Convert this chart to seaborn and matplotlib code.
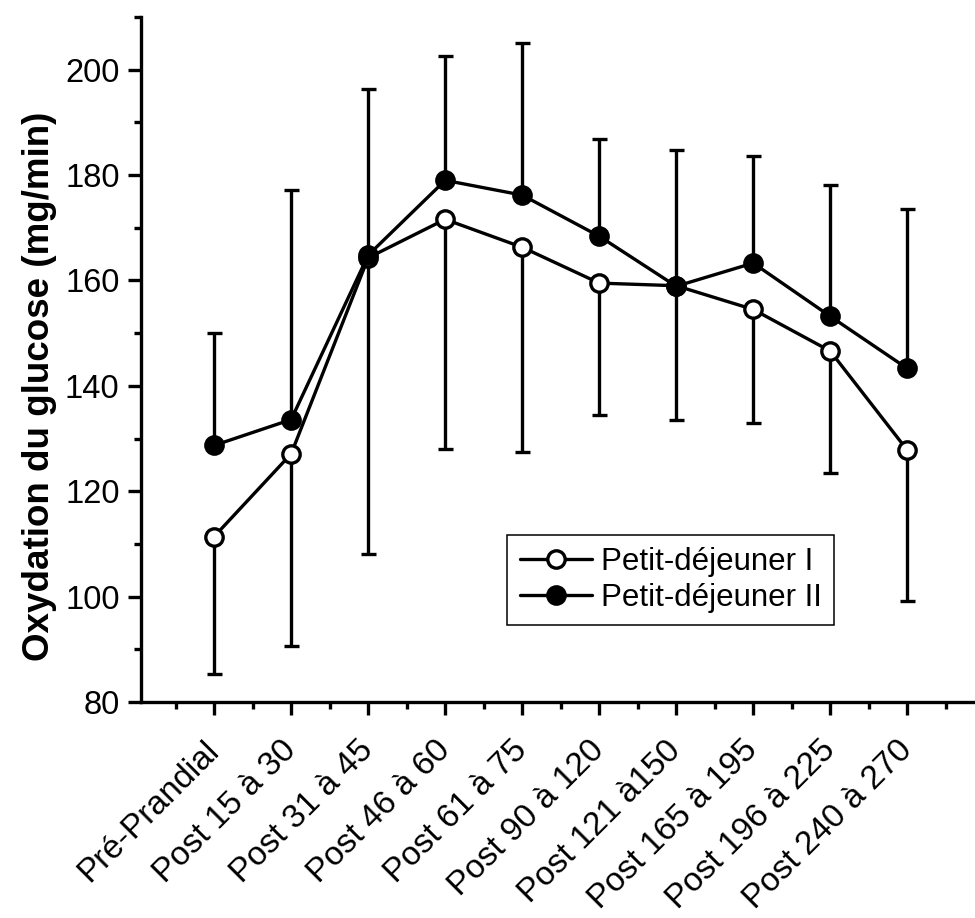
import numpy as np
import pandas as pd
import matplotlib
matplotlib.use("Agg")
import matplotlib.pyplot as plt
from matplotlib.ticker import MultipleLocator, FixedLocator
import seaborn as sns

# Periods of measurement
periodes = ["Pré-Prandial", "Post 15 à 30", "Post 31 à 45", "Post 46 à 60",
            "Post 61 à 75", "Post 90 à 120", "Post 121 à150", "Post 165 à 195",
            "Post 196 à 225", "Post 240 à 270"]

# Glucose oxidation (mg/min), means
pdj_1 = [111.4, 127.1, 164.3, 171.6, 166.3, 159.5, 159.0, 154.5, 146.6, 127.8]
pdj_2 = [128.7, 133.6, 164.8, 179.0, 176.2, 168.4, 158.9, 163.3, 153.2, 143.3]

# Standard deviations (drawn downward for I, upward for II)
sd_1 = [26.1, 36.4, 56.3, 43.5, 38.8, 25.1, 25.5, 21.6, 23.1, 28.6]
sd_2 = [21.4, 43.5, 31.5, 23.6, 28.9, 18.4, 25.9, 20.3, 24.9, 30.2]

noms = ["Petit-déjeuner I", "Petit-déjeuner II"]

sns.set_style("ticks")
plt.rcParams["font.family"] = ["Liberation Sans", "DejaVu Sans"]
plt.rcParams["text.color"] = "black"
plt.rcParams["axes.labelcolor"] = "black"
plt.rcParams["xtick.color"] = "black"
plt.rcParams["ytick.color"] = "black"

pos = np.arange(len(periodes))
df = pd.DataFrame({
    "pos": np.concatenate([pos, pos]),
    "val": pdj_1 + pdj_2,
    "repas": [noms[0]] * len(pos) + [noms[1]] * len(pos),
})

fig = plt.figure(figsize=(9.75, 9.18), dpi=100)
ax = fig.add_axes([141 / 975, 1 - 702 / 918, (975 - 141) / 975, 685 / 918])

lw = 2.4
# one-sided error bars
zeros = np.zeros(len(pos))
ax.errorbar(pos, pdj_1, yerr=[sd_1, zeros], fmt="none", ecolor="black",
            elinewidth=lw, capsize=5.4, capthick=lw, zorder=1)
ax.errorbar(pos, pdj_2, yerr=[zeros, sd_2], fmt="none", ecolor="black",
            elinewidth=lw, capsize=5.4, capthick=lw, zorder=1)

sns.lineplot(data=df[df.repas == noms[0]], x="pos", y="val", ax=ax,
             color="black", linewidth=lw, marker="o", markersize=12.5,
             markerfacecolor="white", markeredgecolor="black",
             markeredgewidth=lw, label=noms[0], zorder=3)
sns.lineplot(data=df[df.repas == noms[1]], x="pos", y="val", ax=ax,
             color="black", linewidth=lw, marker="o", markersize=12.5,
             markerfacecolor="black", markeredgecolor="black",
             markeredgewidth=lw, label=noms[1], zorder=4)

ax.set_xlim(-0.95, 9.88)
ax.set_ylim(80, 210)

ax.xaxis.set_major_locator(FixedLocator(pos))
ax.xaxis.set_minor_locator(FixedLocator(np.arange(-0.5, 10, 1.0)))
ax.yaxis.set_major_locator(FixedLocator(np.arange(80, 201, 20)))
ax.yaxis.set_minor_locator(MultipleLocator(10))

ax.set_xticklabels(periodes, rotation=45, ha="right", va="center",
                   rotation_mode="anchor", fontsize=24, color="black")
ax.tick_params(axis="y", labelsize=23.5, labelcolor="black")
ax.tick_params(which="major", direction="out", length=9.4, width=lw,
               color="black")
ax.tick_params(which="minor", direction="out", length=4.8, width=lw,
               color="black")
ax.tick_params(axis="x", which="major", pad=22)
ax.tick_params(axis="y", which="major", pad=6)

for s in ["top", "right"]:
    ax.spines[s].set_visible(False)
for s in ["left", "bottom"]:
    ax.spines[s].set_linewidth(2.4)
    ax.spines[s].set_color("black")

ax.set_xlabel("")
ax.set_ylabel("Oxydation du glucose (mg/min)", fontsize=26.5,
              fontweight="bold", color="black")
ax.yaxis.set_label_coords(-0.1007, 0.461)

leg = ax.legend(loc="upper left", bbox_to_anchor=(0.439, 0.244),
                borderaxespad=0, fontsize=22.5, frameon=True, fancybox=False,
                handlelength=2.3, handletextpad=0.3, borderpad=0.4,
                labelspacing=0.18)
leg.get_frame().set_edgecolor("black")
leg.get_frame().set_linewidth(1.1)
leg.get_frame().set_alpha(1)
for t in leg.get_texts():
    t.set_color("black")

fig.savefig("out.png", dpi=100, facecolor="white")
